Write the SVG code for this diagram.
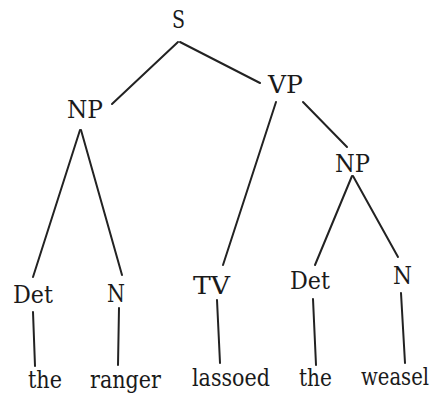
<svg xmlns="http://www.w3.org/2000/svg" width="437" height="396" viewBox="0 0 437 396">
<style>
.e line{stroke:#222;stroke-width:2;stroke-linecap:round}
.t text{font-family:"DejaVu Serif",serif;font-size:25px;fill:#1a1a1a}
</style>
<rect width="437" height="396" fill="#fff"/>
<g class="e" id="connectors">
<line x1="178" y1="42" x2="112" y2="104"/>
<line x1="180" y1="42" x2="260" y2="83"/>
<line x1="80" y1="130" x2="33" y2="277"/>
<line x1="81" y1="130" x2="122" y2="275"/>
<line x1="276" y1="102" x2="223" y2="265"/>
<line x1="303" y1="102" x2="347" y2="147"/>
<line x1="352" y1="176" x2="315" y2="265"/>
<line x1="353" y1="176" x2="398" y2="257"/>
<line x1="33" y1="312" x2="35" y2="366"/>
<line x1="119" y1="308" x2="118" y2="365"/>
<line x1="217" y1="300" x2="220" y2="363"/>
<line x1="313" y1="299" x2="316" y2="365"/>
<line x1="401" y1="293" x2="405" y2="363"/>
</g>
<g class="t">
<g id="S"><text x="172" y="28" textLength="13" lengthAdjust="spacingAndGlyphs">S</text></g>
<g id="NP1"><text x="67" y="118" textLength="36" lengthAdjust="spacingAndGlyphs">NP</text></g>
<g id="VP"><text x="268" y="93" textLength="35" lengthAdjust="spacingAndGlyphs">VP</text></g>
<g id="NP2"><text x="335" y="172" textLength="35" lengthAdjust="spacingAndGlyphs">NP</text></g>
<g id="Det1"><text x="13" y="303" textLength="40" lengthAdjust="spacingAndGlyphs">Det</text></g>
<g id="N1"><text x="107" y="302" textLength="18" lengthAdjust="spacingAndGlyphs">N</text></g>
<g id="TV"><text x="193" y="294" textLength="37" lengthAdjust="spacingAndGlyphs">TV</text></g>
<g id="Det2"><text x="290" y="289" textLength="40" lengthAdjust="spacingAndGlyphs">Det</text></g>
<g id="N2"><text x="393" y="284" textLength="19" lengthAdjust="spacingAndGlyphs">N</text></g>
<g id="w1"><text x="28" y="388" textLength="34" lengthAdjust="spacingAndGlyphs">the</text></g>
<g id="w2"><text x="90" y="388" textLength="71" lengthAdjust="spacingAndGlyphs">ranger</text></g>
<g id="w3"><text x="192" y="386" textLength="78" lengthAdjust="spacingAndGlyphs">lassoed</text></g>
<g id="w4"><text x="299" y="386" textLength="33" lengthAdjust="spacingAndGlyphs">the</text></g>
<g id="w5"><text x="361" y="385" textLength="68" lengthAdjust="spacingAndGlyphs">weasel</text></g>
</g>
</svg>
